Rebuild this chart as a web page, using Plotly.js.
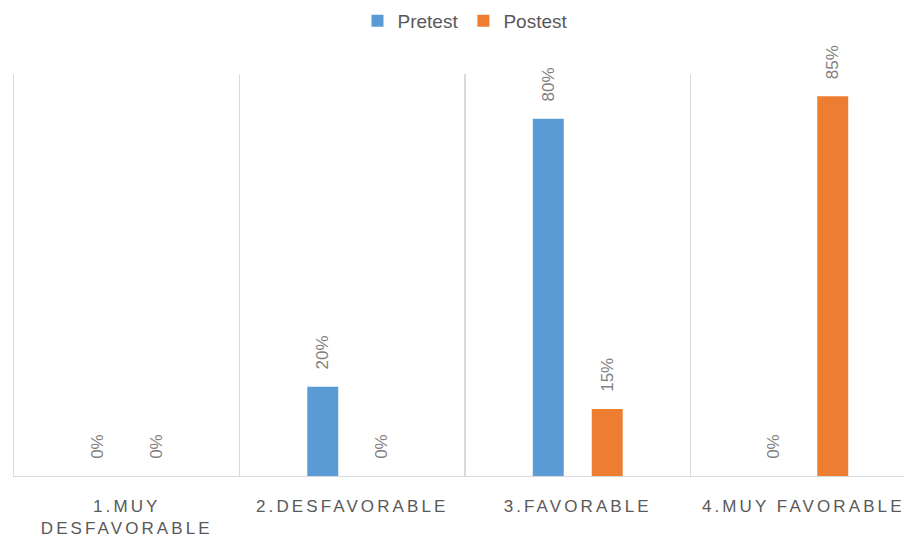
<!DOCTYPE html>
<html>
<head>
<meta charset="utf-8">
<script src="https://cdn.plot.ly/plotly-3.0.1.min.js"></script>
<style>
html,body{margin:0;padding:0;overflow:hidden;background:#fff;}
.xtick text{letter-spacing:3.1px;}
</style>
</head>
<body>
<div id="chart"></div>
<script>
var categories = ["1.MUY<br>DESFAVORABLE", "2.DESFAVORABLE", "3.FAVORABLE", "4.MUY FAVORABLE"];
var pretest = [0, 0.20, 0.80, 0];
var postest = [0, 0, 0.15, 0.85];
var seriesNames = ["Pretest", "Postest"];

function labels(v){ return v.map(function(x){ return "\u00a0\u00a0\u00a0" + Math.round(x*100) + "%"; }); }

var labelFont = {family:"Liberation Sans, Arial, sans-serif", size:17, color:"#7f7f7f"};

var traces = [
  {type:"bar", name:seriesNames[0], x:categories, y:pretest, marker:{color:"#5b9bd5"},
   text:labels(pretest), textposition:"outside", textangle:-90, cliponaxis:false, constraintext:"none",
   textfont:labelFont, hoverinfo:"none"},
  {type:"bar", name:seriesNames[1], x:categories, y:postest, marker:{color:"#ed7d31"},
   text:labels(postest), textposition:"outside", textangle:-90, cliponaxis:false, constraintext:"none",
   textfont:labelFont, hoverinfo:"none"}
];

var layout = {
  width:930, height:537,
  margin:{l:14, r:14, t:74, b:61},
  paper_bgcolor:"#fff", plot_bgcolor:"#fff",
  barmode:"group", bargap:0.477, bargroupgap:0.475,
  showlegend:true,
  legend:{orientation:"h", x:0.5, xanchor:"center", xref:"container", y:0.961, yanchor:"middle", yref:"container",
          font:{family:"Liberation Sans, Arial, sans-serif", size:19, color:"#595959"},
          traceorder:"normal"},
  xaxis:{type:"category", tickson:"boundaries", showgrid:true, gridcolor:"#d9d9d9", gridwidth:1.3,
         showline:true, linecolor:"#d9d9d9", linewidth:1.3, ticks:"", ticklen:0, ticklabelstandoff:14,
         tickfont:{family:"Liberation Sans, Arial, sans-serif", size:17, color:"#595959"},
         range:[-0.5,3.5], fixedrange:true, automargin:false},
  yaxis:{range:[0,0.9], showgrid:false, zeroline:false, showticklabels:false, ticks:"",
         showline:true, linecolor:"#d9d9d9", linewidth:1.3, fixedrange:true}
};

Plotly.newPlot("chart", traces, layout, {staticPlot:true, displayModeBar:false});
</script>
</body>
</html>
